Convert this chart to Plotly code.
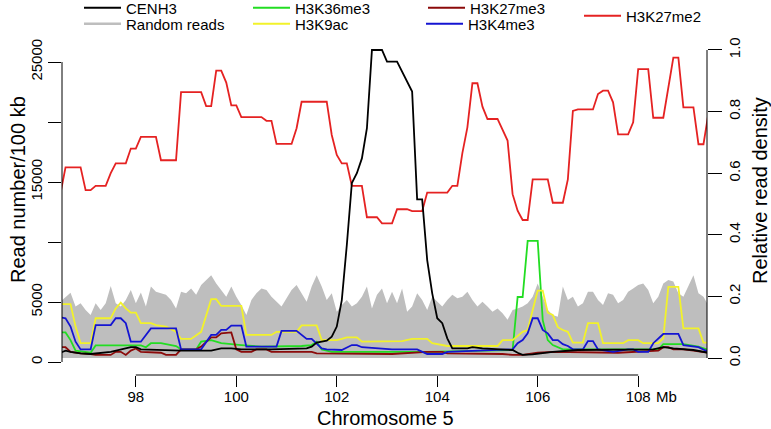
import plotly.graph_objects as go

# ---------------- data (Mb, relative read density) ----------------
bins_mb = [96.5, 96.6, 96.7, 96.8, 96.9, 97.0, 97.1, 97.2, 97.3, 97.4,
           97.5, 97.6, 97.7, 97.8, 97.9, 98.0, 98.1, 98.2, 98.3, 98.4,
           98.5, 98.6, 98.7, 98.8, 98.9, 99.0, 99.1, 99.2, 99.3, 99.4,
           99.5, 99.6, 99.7, 99.8, 99.9, 100.0, 100.1, 100.2, 100.3, 100.4,
           100.5, 100.6, 100.7, 100.8, 100.9, 101.0, 101.1, 101.2, 101.3, 101.4,
           101.5, 101.6, 101.7, 101.8, 101.9, 102.0, 102.1, 102.2, 102.3, 102.4,
           102.5, 102.6, 102.7, 102.8, 102.9, 103.0, 103.1, 103.2, 103.3, 103.4,
           103.5, 103.6, 103.7, 103.8, 103.9, 104.0, 104.1, 104.2, 104.3, 104.4,
           104.5, 104.6, 104.7, 104.8, 104.9, 105.0, 105.1, 105.2, 105.3, 105.4,
           105.5, 105.6, 105.7, 105.8, 105.9, 106.0, 106.1, 106.2, 106.3, 106.4,
           106.5, 106.6, 106.7, 106.8, 106.9, 107.0, 107.1, 107.2, 107.3, 107.4,
           107.5, 107.6, 107.7, 107.8, 107.9, 108.0, 108.1, 108.2, 108.3, 108.4,
           108.5, 108.6, 108.7, 108.8, 108.9, 109.0, 109.1, 109.2, 109.3, 109.4]

random_reads = [0.183, 0.199, 0.212, 0.167, 0.178, 0.156, 0.140, 0.178, 0.156, 0.178,
                0.234, 0.178, 0.167, 0.188, 0.221, 0.178, 0.213, 0.167, 0.232, 0.215,
                0.210, 0.205, 0.188, 0.161, 0.215, 0.210, 0.226, 0.205, 0.237, 0.253,
                0.269, 0.242, 0.221, 0.199, 0.232, 0.199, 0.172, 0.140, 0.188, 0.210,
                0.226, 0.221, 0.199, 0.183, 0.167, 0.194, 0.221, 0.237, 0.210, 0.183,
                0.232, 0.269, 0.232, 0.188, 0.210, 0.150, 0.172, 0.188, 0.167, 0.178,
                0.199, 0.232, 0.161, 0.205, 0.226, 0.178, 0.215, 0.178, 0.226, 0.150,
                0.167, 0.210, 0.188, 0.156, 0.199, 0.183, 0.167, 0.188, 0.205, 0.194,
                0.199, 0.215, 0.188, 0.167, 0.183, 0.167, 0.150, 0.161, 0.145, 0.124,
                0.156, 0.161, 0.167, 0.178, 0.199, 0.242, 0.199, 0.156, 0.140, 0.134,
                0.232, 0.188, 0.199, 0.167, 0.178, 0.215, 0.215, 0.188, 0.172, 0.210,
                0.205, 0.178, 0.188, 0.215, 0.226, 0.237, 0.242, 0.221, 0.178, 0.199,
                0.242, 0.253, 0.248, 0.210, 0.199, 0.232, 0.269, 0.210, 0.199, 0.170]

cenh3_mb = [96.5, 96.6, 96.7, 96.9, 97.1, 97.3, 97.5, 97.9, 98.0, 98.1,
            98.5, 98.9, 99.5, 99.7, 99.9, 100.1, 100.7, 101.1, 101.4, 101.5,
            101.6, 101.8, 101.9, 102.0, 102.1, 102.2, 102.3, 102.4, 102.5, 102.6,
            102.7, 102.9, 103.0, 103.2, 103.5, 103.6, 103.7, 103.8, 103.9, 104.0,
            104.1, 104.2, 104.3, 104.6, 104.7, 104.9, 105.4, 105.5, 105.6, 105.7,
            105.9, 106.1, 106.3, 106.8, 107.9, 108.3, 108.5, 108.7, 109.1, 109.4]
cenh3 = [0.017, 0.024, 0.020, 0.015, 0.013, 0.017, 0.020, 0.035, 0.035, 0.028,
         0.026, 0.024, 0.024, 0.031, 0.031, 0.028, 0.028, 0.031, 0.031, 0.037,
         0.050, 0.056, 0.069, 0.102, 0.188, 0.367, 0.568, 0.600, 0.648, 0.746,
         1.000, 1.000, 0.962, 0.962, 0.865, 0.515, 0.515, 0.318, 0.210, 0.129,
         0.113, 0.064, 0.031, 0.031, 0.035, 0.031, 0.028, 0.026, 0.017, 0.010,
         0.012, 0.017, 0.020, 0.026, 0.028, 0.028, 0.035, 0.031, 0.026, 0.017]

h3k36me3_mb = [96.5, 96.6, 96.7, 96.8, 97.1, 97.2, 98.1, 98.2, 98.3, 98.5,
               98.8, 98.9, 99.2, 99.3, 99.5, 99.7, 100.1, 100.5, 101.3, 101.5,
               101.6, 101.7, 101.9, 102.5, 103.1, 103.8, 105.5, 105.6, 105.7, 105.8,
               106.0, 106.1, 106.2, 106.3, 106.5, 108.4, 108.5, 108.9, 109.2, 109.4]
h3k36me3 = [0.083, 0.083, 0.058, 0.024, 0.017, 0.041, 0.041, 0.035, 0.048, 0.048,
            0.039, 0.028, 0.028, 0.053, 0.058, 0.048, 0.042, 0.037, 0.039, 0.042,
            0.053, 0.028, 0.020, 0.020, 0.020, 0.020, 0.026, 0.198, 0.198, 0.380,
            0.380, 0.123, 0.058, 0.042, 0.028, 0.028, 0.045, 0.045, 0.037, 0.026]

h3k9ac_mb = [96.5, 96.7, 96.8, 96.9, 97.1, 97.2, 97.5, 97.6, 97.7, 97.8,
             97.9, 98.0, 98.1, 98.3, 98.4, 98.6, 98.8, 98.9, 99.1, 99.3,
             99.5, 99.6, 99.7, 100.1, 100.2, 100.7, 100.8, 101.2, 101.3, 101.6,
             101.7, 102.0, 102.1, 102.2, 102.4, 102.5, 103.3, 103.5, 103.8, 103.9,
             104.2, 105.2, 105.3, 105.5, 105.7, 105.8, 105.9, 106.0, 106.1, 106.2,
             106.3, 106.4, 106.5, 106.6, 106.7, 106.9, 107.0, 107.2, 107.3, 107.7,
             107.8, 108.0, 108.1, 108.4, 108.5, 108.6, 108.8, 108.9, 109.2, 109.3,
             109.4]
h3k9ac = [0.175, 0.175, 0.102, 0.048, 0.048, 0.129, 0.129, 0.161, 0.180, 0.161,
          0.147, 0.147, 0.113, 0.113, 0.107, 0.102, 0.085, 0.062, 0.062, 0.085,
          0.191, 0.191, 0.169, 0.169, 0.075, 0.075, 0.085, 0.085, 0.106, 0.106,
          0.058, 0.058, 0.062, 0.067, 0.067, 0.053, 0.055, 0.062, 0.062, 0.048,
          0.039, 0.039, 0.058, 0.058, 0.085, 0.091, 0.156, 0.219, 0.219, 0.147,
          0.140, 0.100, 0.091, 0.085, 0.050, 0.050, 0.113, 0.113, 0.048, 0.048,
          0.058, 0.058, 0.048, 0.048, 0.064, 0.231, 0.231, 0.096, 0.096, 0.050,
          0.050]

h3k27me3_mb = [96.5, 96.6, 96.7, 96.9, 97.1, 97.2, 97.5, 97.6, 97.7, 97.8,
               97.9, 98.0, 98.1, 98.5, 98.6, 98.8, 98.9, 99.2, 99.3, 99.5,
               99.6, 99.7, 99.9, 100.0, 100.1, 100.3, 100.4, 100.6, 100.7, 101.5,
               101.6, 103.1, 103.8, 104.1, 104.2, 105.3, 105.5, 105.7, 106.0, 106.3,
               107.6, 108.4, 108.5, 108.6, 108.7, 108.9, 109.1, 109.4]
h3k27me3 = [0.035, 0.035, 0.020, 0.015, 0.013, 0.010, 0.010, 0.020, 0.020, 0.010,
            0.024, 0.031, 0.020, 0.017, 0.010, 0.010, 0.028, 0.028, 0.037, 0.067,
            0.067, 0.080, 0.083, 0.028, 0.020, 0.020, 0.028, 0.028, 0.020, 0.020,
            0.015, 0.013, 0.020, 0.020, 0.015, 0.013, 0.010, 0.010, 0.017, 0.020,
            0.017, 0.024, 0.035, 0.035, 0.028, 0.028, 0.024, 0.017]

h3k4me3_mb = [96.5, 96.6, 96.7, 96.8, 96.9, 97.1, 97.2, 97.5, 97.6, 97.7,
              97.8, 97.9, 98.1, 98.3, 98.8, 98.9, 99.3, 99.5, 99.6, 99.7,
              99.8, 99.9, 100.1, 100.2, 100.8, 100.9, 101.2, 101.4, 101.5, 101.6,
              101.7, 101.8, 102.1, 102.3, 102.4, 102.5, 102.8, 103.1, 103.6, 103.7,
              103.8, 104.1, 104.2, 105.5, 105.6, 105.7, 105.8, 105.9, 106.0, 106.1,
              106.2, 106.3, 106.4, 106.5, 106.6, 106.7, 106.9, 107.0, 107.1, 107.2,
              107.5, 107.8, 107.9, 108.0, 108.2, 108.3, 108.5, 108.8, 108.9, 109.2,
              109.4]
h3k4me3 = [0.132, 0.129, 0.102, 0.053, 0.028, 0.028, 0.107, 0.107, 0.129, 0.129,
           0.113, 0.053, 0.053, 0.096, 0.096, 0.028, 0.028, 0.075, 0.075, 0.091,
           0.091, 0.105, 0.105, 0.037, 0.037, 0.088, 0.088, 0.062, 0.062, 0.048,
           0.031, 0.028, 0.026, 0.042, 0.042, 0.035, 0.031, 0.028, 0.028, 0.020,
           0.013, 0.013, 0.020, 0.028, 0.048, 0.058, 0.080, 0.129, 0.129, 0.091,
           0.080, 0.058, 0.058, 0.045, 0.039, 0.028, 0.028, 0.055, 0.055, 0.028,
           0.020, 0.028, 0.028, 0.020, 0.020, 0.048, 0.078, 0.078, 0.042, 0.035,
           0.020]

h3k27me2_mb = [96.5, 96.6, 96.9, 97.0, 97.1, 97.2, 97.4, 97.5, 97.6, 97.8,
               97.9, 98.0, 98.1, 98.4, 98.5, 98.8, 98.9, 99.3, 99.4, 99.5,
               99.6, 99.7, 99.8, 99.9, 100.0, 100.1, 100.5, 100.6, 100.7, 100.8,
               101.1, 101.2, 101.3, 101.8, 101.9, 102.0, 102.1, 102.2, 102.3, 102.5,
               102.6, 102.8, 102.9, 103.1, 103.2, 103.4, 103.5, 103.7, 103.8, 104.2,
               104.3, 104.4, 104.5, 104.6, 104.7, 104.8, 104.9, 105.0, 105.2, 105.3,
               105.4, 105.5, 105.6, 105.7, 105.8, 105.9, 106.2, 106.3, 106.5, 106.6,
               106.7, 106.8, 107.1, 107.2, 107.3, 107.4, 107.5, 107.6, 107.8, 107.9,
               108.0, 108.2, 108.3, 108.5, 108.6, 108.7, 108.8, 108.9, 109.1, 109.2,
               109.3, 109.4]
h3k27me2 = [0.535, 0.619, 0.619, 0.545, 0.545, 0.559, 0.559, 0.600, 0.632, 0.632,
            0.680, 0.680, 0.718, 0.718, 0.642, 0.642, 0.863, 0.863, 0.818, 0.818,
            0.933, 0.933, 0.894, 0.820, 0.820, 0.782, 0.782, 0.770, 0.770, 0.695,
            0.695, 0.746, 0.832, 0.832, 0.724, 0.659, 0.632, 0.632, 0.559, 0.559,
            0.457, 0.457, 0.437, 0.437, 0.483, 0.483, 0.477, 0.477, 0.537, 0.537,
            0.559, 0.559, 0.665, 0.749, 0.892, 0.892, 0.816, 0.776, 0.776, 0.740,
            0.706, 0.532, 0.478, 0.448, 0.448, 0.580, 0.580, 0.504, 0.504, 0.580,
            0.802, 0.807, 0.807, 0.857, 0.868, 0.868, 0.830, 0.726, 0.726, 0.765,
            0.938, 0.938, 0.780, 0.780, 0.881, 0.975, 0.975, 0.814, 0.814, 0.694,
            0.694, 0.795]

x_tickvals = [98, 100, 102, 104, 106, 108]
x_ticktext = ["98", "100", "102", "104", "106", "108"]
left_tickvals = [0, 5000, 10000, 15000, 20000, 25000]
left_ticktext = ["0", "5000", "", "15000", "", "25000"]
right_tickvals = [0.0, 0.2, 0.4, 0.6, 0.8, 1.0]
right_ticktext = ["0.0", "0.2", "0.4", "0.6", "0.8", "1.0"]

# ---------------- styling ----------------
FONT = "Liberation Sans, Arial, Helvetica, sans-serif"
GRAY = "#BEBEBE"
W, H = 771, 429
ML, MR, MT, MB = 62, 64, 45, 54
PW, PH = W - ML - MR, H - MT - MB
BOTTOM = H - MB  # pixel row of the plot-area bottom


def px_to_paper_x(px):
    return (px - ML) / PW


def px_to_paper_y(py):
    return (BOTTOM - py) / PH


fig = go.Figure()
# empty trace so that the left (read number) axis exists
fig.add_trace(go.Scatter(x=[], y=[], yaxis="y", showlegend=False, hoverinfo="skip"))

fig.add_trace(go.Scatter(x=bins_mb, y=random_reads, yaxis="y2", mode="lines",
                         fill="tozeroy", fillcolor=GRAY,
                         line=dict(width=0, color=GRAY), showlegend=False))

series = [
    ("H3K36me3", h3k36me3_mb, h3k36me3, "#22DD22", "legend3"),
    ("H3K9ac", h3k9ac_mb, h3k9ac, "#F2F22A", "legend4"),
    ("H3K27me3", h3k27me3_mb, h3k27me3, "#8B0A0A", "legend5"),
    ("H3K4me3", h3k4me3_mb, h3k4me3, "#1414D2", "legend6"),
    ("H3K27me2", h3k27me2_mb, h3k27me2, "#E52222", "legend7"),
    ("CENH3", cenh3_mb, cenh3, "#000000", "legend"),
]
for name, xs, ys, col, lg in series:
    fig.add_trace(go.Scatter(x=xs, y=ys, yaxis="y2", mode="lines", name=name,
                             line=dict(color=col, width=1.8), legend=lg))

# legend entry for the grey band (drawn as a line in the key)
fig.add_trace(go.Scatter(x=[None], y=[None], yaxis="y2", mode="lines",
                         name="Random reads", line=dict(color=GRAY, width=2.4),
                         legend="legend2"))


def leg(text_left, center_y):
    left = text_left - 47
    top = center_y - 17.5
    return dict(x=px_to_paper_x(left), y=px_to_paper_y(top), xref="paper", yref="paper",
                xanchor="left", yanchor="top", bgcolor="rgba(0,0,0,0)",
                font=dict(family=FONT, size=15, color="black"),
                itemwidth=37)


axis_font = dict(family=FONT, size=15, color="black")
title_font = dict(family=FONT, size=20, color="black")

fig.update_layout(
    width=W, height=H,
    margin=dict(l=ML, r=MR, t=MT, b=MB, autoexpand=False),
    paper_bgcolor="white", plot_bgcolor="white",
    font=dict(family=FONT, color="black"),
    showlegend=True,
    legend=leg(126, 9),
    legend2=leg(126, 25),
    legend3=leg(295, 9),
    legend4=leg(295, 25),
    legend5=leg(470, 9),
    legend6=leg(468, 25),
    legend7=leg(626, 17),
    xaxis=dict(range=[96.53, 109.37], tickvals=x_tickvals, ticktext=x_ticktext,
               ticks="outside", ticklen=11, tickwidth=1, tickcolor="black",
               ticklabelstandoff=-3,
               showline=False, showgrid=False, zeroline=False,
               tickfont=axis_font),
    yaxis=dict(range=[-1083.3, 26416.7], tickvals=left_tickvals, ticktext=left_ticktext,
               tickangle=-90, ticks="outside", ticklen=13, tickwidth=1, tickcolor="black",
               showline=False, showgrid=False, zeroline=False, tickfont=axis_font),
    yaxis2=dict(range=[-0.0552, 1.0162], overlaying="y", side="right", anchor="x",
                tickvals=right_tickvals, ticktext=right_ticktext,
                tickangle=-90, ticks="outside", ticklen=14, tickwidth=1, tickcolor="black",
                showline=False, showgrid=False, zeroline=False, tickfont=axis_font),
    shapes=[
        dict(type="line", xref="x", yref="paper", x0=98, x1=108, y0=0, y1=0,
             line=dict(color="black", width=1)),
        dict(type="line", xref="paper", yref="y", x0=0, x1=0, y0=0, y1=25000,
             line=dict(color="black", width=1)),
        dict(type="line", xref="paper", yref="y2", x0=1, x1=1, y0=0, y1=1,
             line=dict(color="black", width=1)),
    ],
    annotations=[
        dict(text="Mb", x=108, xref="x", y=0, yref="paper", xanchor="left",
             yanchor="middle", xshift=16, yshift=-21, showarrow=False, font=axis_font),
        dict(text="Chromosome 5", x=px_to_paper_x(385), xref="paper",
             y=px_to_paper_y(418), yref="paper", xanchor="center", yanchor="middle",
             showarrow=False, font=title_font),
        dict(text="Read number/100 kb", x=px_to_paper_x(18), xref="paper",
             y=px_to_paper_y(190), yref="paper", xanchor="center", yanchor="middle",
             textangle=-90, showarrow=False, font=title_font),
        dict(text="Relative read density", x=px_to_paper_x(760), xref="paper",
             y=px_to_paper_y(191), yref="paper", xanchor="center", yanchor="middle",
             textangle=-90, showarrow=False, font=title_font),
    ],
)

fig.write_html("out.html",
               config={"displayModeBar": False},
               post_script="document.body.style.margin='0px';"
                           "document.body.style.overflow='hidden';")
